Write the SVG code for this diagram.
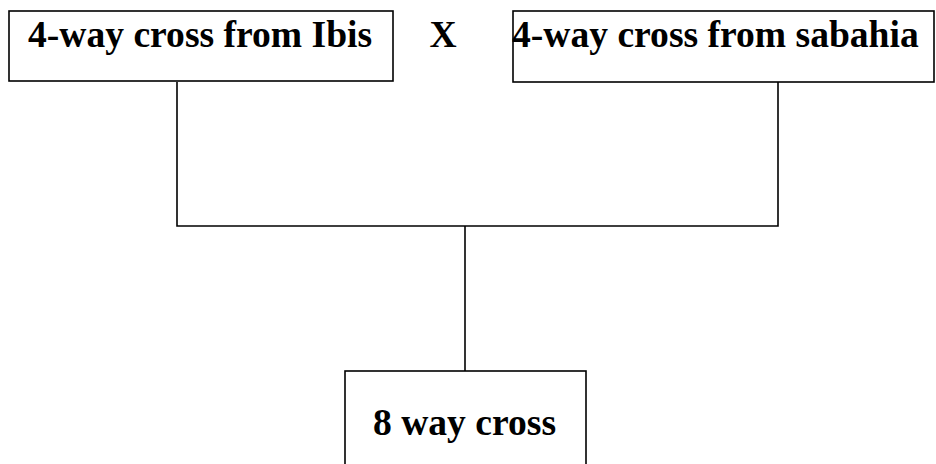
<svg xmlns="http://www.w3.org/2000/svg" width="936" height="464" viewBox="0 0 936 464">
<style>
.box{fill:#fff;stroke:#000;stroke-width:1.6}
.lbl{font-family:"Liberation Serif","Times New Roman",serif;font-weight:bold;font-size:37.6px;fill:#000}
.conn{fill:none;stroke:#000;stroke-width:1.6}
</style>
<rect width="936" height="464" fill="#fff"/>
<g id="connectors">
<polyline class="conn" points="177,82 177,226 778,226 778,82"/>
<line class="conn" x1="465" y1="226" x2="465" y2="371"/>
</g>
<g id="ibis">
<rect class="box" x="9" y="11" width="384" height="70"/>
<text class="lbl" x="28" y="47">4-way cross from Ibis</text>
</g>
<g id="cross-mark">
<text class="lbl" x="443" y="47" text-anchor="middle">X</text>
</g>
<g id="sabahia">
<rect class="box" x="513" y="11" width="421" height="71"/>
<text class="lbl" x="512" y="47">4-way cross from sabahia</text>
</g>
<g id="eight-way">
<rect class="box" x="345" y="371" width="241" height="100"/>
<text class="lbl" x="373" y="435">8 way cross</text>
</g>
</svg>
